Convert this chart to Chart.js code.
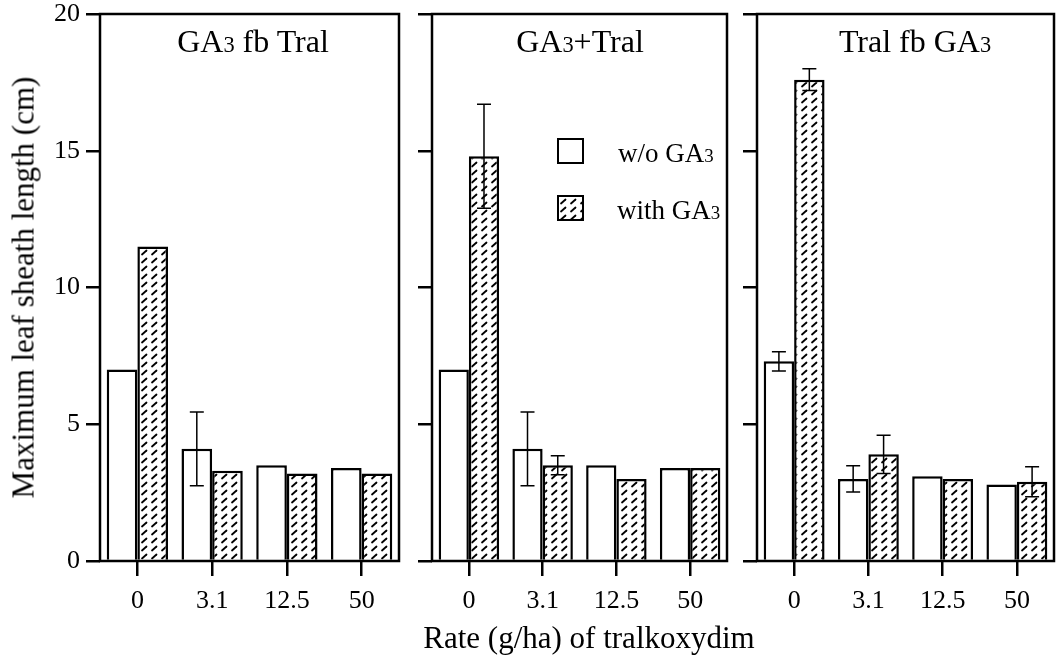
<!DOCTYPE html>
<html><head><meta charset="utf-8">
<script src="https://cdn.jsdelivr.net/npm/chart.js@4.4.1/dist/chart.umd.min.js"></script>
<style>
html,body{margin:0;padding:0;background:#fff;}
#wrap{position:relative;width:1056px;height:659px;overflow:hidden;font-family:'Liberation Serif','Times New Roman',serif;color:#000;background:#fff;}
canvas{position:absolute;top:0;}
.t{position:absolute;white-space:nowrap;}
.s{font-size:0.7em;line-height:1;}
.box{position:absolute;width:23px;height:22px;border:2.5px solid #000;background:#fff;}
</style></head><body>
<div id="wrap">
<canvas id="c1" width="412" height="659" style="left:0px"></canvas>
<canvas id="c2" width="340" height="659" style="left:400px"></canvas>
<canvas id="c3" width="316" height="659" style="left:740px"></canvas>
<div class="t" style="left:103px;width:300px;top:25px;font-size:32px;line-height:32px;text-align:center;">GA<span class="s">3</span> fb Tral</div>
<div class="t" style="left:430px;width:300px;top:25px;font-size:32px;line-height:32px;text-align:center;">GA<span class="s">3</span>+Tral</div>
<div class="t" style="left:765px;width:300px;top:25px;font-size:32px;line-height:32px;text-align:center;">Tral fb GA<span class="s">3</span></div>
<div class="box" style="left:557px;top:138px;"></div>
<div class="box" id="hbox" style="left:557px;top:195px;"></div>
<div class="t" style="left:618px;top:140px;font-size:27px;line-height:27px;">w/o GA<span class="s">3</span></div>
<div class="t" style="left:617px;top:197px;font-size:27px;line-height:27px;">with GA<span class="s">3</span></div>
<div class="t" style="left:-227.5px;top:271.5px;width:500px;height:31px;font-size:31px;line-height:31px;text-align:center;transform:rotate(-90deg);">Maximum leaf sheath length (cm)</div>
<div class="t" style="left:339px;top:622px;width:500px;font-size:31px;line-height:31px;text-align:center;">Rate (g/ha) of tralkoxydim</div>
</div>
<script>
// ---- data ----
const rates = ['0', '3.1', '12.5', '50'];
const yTicks = [0, 5, 10, 15, 20];
// Panel 1: GA3 fb Tral
const wo1 = [7.0, 4.1, 3.5, 3.4];
const with1 = [11.5, 3.3, 3.2, 3.2];
const errWo1 = [0, 1.35, 0, 0];
const errWith1 = [0, 0, 0, 0];
// Panel 2: GA3+Tral
const wo2 = [7.0, 4.1, 3.5, 3.4];
const with2 = [14.8, 3.5, 3.0, 3.4];
const errWo2 = [0, 1.35, 0, 0];
const errWith2 = [1.9, 0.35, 0, 0];
// Panel 3: Tral fb GA3
const wo3 = [7.3, 3.0, 3.1, 2.8];
const with3 = [17.6, 3.9, 3.0, 2.9];
const errWo3 = [0.35, 0.48, 0, 0];
const errWith3 = [0.4, 0.7, 0, 0.55];

// ---- hatch pattern ----
function makeTile() {
  const t = document.createElement('canvas');
  t.width = 10; t.height = 8;
  const g = t.getContext('2d');
  g.fillStyle = '#fff'; g.fillRect(0, 0, 10, 8);
  g.strokeStyle = '#000'; g.lineWidth = 1.8; g.lineCap = 'round';
  g.beginPath(); g.moveTo(2, 6.5); g.lineTo(6.5, 2.5); g.stroke();
  return t;
}
const tile = makeTile();
document.getElementById('hbox').style.backgroundImage = 'url(' + tile.toDataURL() + ')';

const FONT = {family: "'Liberation Serif','Times New Roman',serif", size: 26};

const framePlugin = {
  id: 'frame',
  afterDraw(chart) {
    const a = chart.chartArea, c = chart.ctx;
    c.save(); c.strokeStyle = '#000'; c.lineWidth = 2.5;
    c.strokeRect(a.left, a.top, a.right - a.left, a.bottom - a.top);
    c.restore();
  }
};
const errPlugin = {
  id: 'errbars',
  afterDatasetsDraw(chart) {
    const c = chart.ctx, ys = chart.scales.y;
    c.save(); c.strokeStyle = '#000'; c.lineWidth = 1.5;
    chart.data.datasets.forEach((ds, i) => {
      const meta = chart.getDatasetMeta(i);
      (ds.errors || []).forEach((e, j) => {
        if (!e) return;
        const v = ds.data[j], x = meta.data[j].x;
        const yt = ys.getPixelForValue(v + e), yb = ys.getPixelForValue(v - e);
        c.beginPath();
        c.moveTo(x, yb); c.lineTo(x, yt);
        c.moveTo(x - 7, yt); c.lineTo(x + 7, yt);
        c.moveTo(x - 7, yb); c.lineTo(x + 7, yb);
        c.stroke();
      });
    });
    c.restore();
  }
};

function makeChart(id, wo, wi, ew, ewi, yWidth, padRight, showLabels) {
  const ctx = document.getElementById(id).getContext('2d');
  const pattern = ctx.createPattern(tile, 'repeat');
  return new Chart(ctx, {
    type: 'bar',
    data: {
      labels: rates,
      datasets: [
        {label: 'w/o GA3', data: wo, errors: ew, backgroundColor: '#fff', borderColor: '#000', borderWidth: 2.5},
        {label: 'with GA3', data: wi, errors: ewi, backgroundColor: pattern, borderColor: '#000', borderWidth: 2.5}
      ]
    },
    options: {
      responsive: false, animation: false,
      layout: {padding: {top: 14, left: 0, right: padRight, bottom: 0}},
      plugins: {legend: {display: false}, tooltip: {enabled: false}, title: {display: false}},
      datasets: {bar: {categoryPercentage: 0.82, barPercentage: 1.0}},
      scales: {
        x: {
          type: 'category',
          grid: {offset: false, drawOnChartArea: false, tickLength: 15, color: '#000', lineWidth: 2.5},
          border: {display: false},
          ticks: {font: FONT, color: '#000', padding: 10, maxRotation: 0, autoSkip: false},
          afterFit(s) { s.height = 659 - 561; s.paddingLeft = 0; s.paddingRight = 0; s.paddingTop = 0; s.paddingBottom = 0; }
        },
        y: {
          min: 0, max: 20,
          afterBuildTicks(s) { s.ticks = yTicks.map(v => ({value: v})); },
          grid: {drawOnChartArea: false, tickLength: 14, color: '#000', lineWidth: 2.5},
          border: {display: false},
          ticks: {font: FONT, color: '#000', padding: 6, callback: v => showLabels ? String(v) : ''},
          afterFit(s) { s.width = yWidth; s.paddingLeft = 0; s.paddingRight = 0; s.paddingTop = 0; s.paddingBottom = 0; }
        }
      }
    },
    plugins: [framePlugin, errPlugin]
  });
}
makeChart('c1', wo1, with1, errWo1, errWith1, 100, 13, true);
makeChart('c2', wo2, with2, errWo2, errWith2, 32, 13, false);
makeChart('c3', wo3, with3, errWo3, errWith3, 17, 2, false);
</script>
</body></html>
